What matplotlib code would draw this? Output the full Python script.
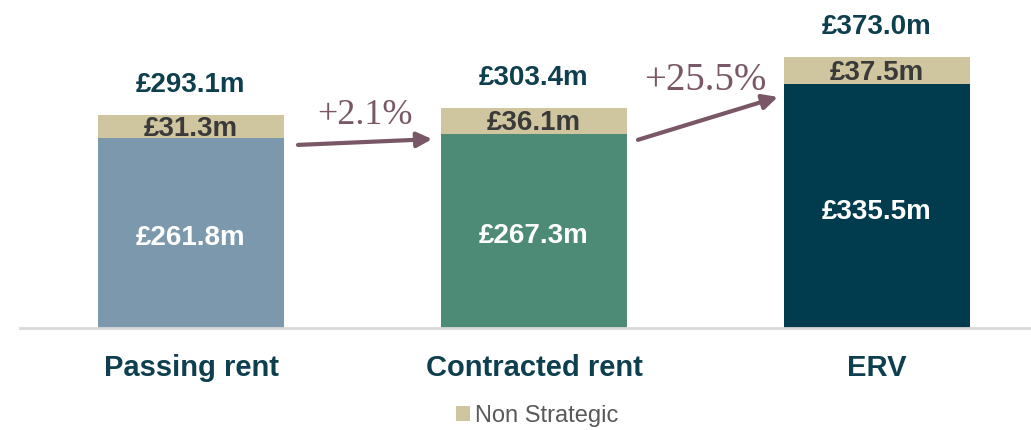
import numpy as np
import matplotlib
matplotlib.use("Agg")
import matplotlib.pyplot as plt

categories = ["Passing rent", "Contracted rent", "ERV"]
strategic = [261.8, 267.3, 335.5]
non_strategic = [31.3, 36.1, 37.5]
totals = [293.1, 303.4, 373.0]
growth = ["+2.1%", "+25.5%"]

bar_colors = ["#7B98AD", "#4E8B76", "#013C4E"]
tan = "#CFC6A0"
teal_text = "#0E3F4F"
arrow_col = "#7A5766"

plt.rcParams["font.family"] = ["Liberation Sans", "DejaVu Sans"]

fig = plt.figure(figsize=(10.31, 4.30), dpi=100)
ax = fig.add_axes([0.0, 102 / 430, 1.0, 328 / 430])

x = np.arange(len(categories))
ax.bar(x, strategic, width=0.545, color=bar_colors)
ax.bar(x, non_strategic, width=0.545, bottom=strategic, color=tan, label="Non Strategic")

ax.set_xlim(-191 / 343, (1031 - 191) / 343)
ax.set_ylim(0, 328 / 0.7265)

for i in range(len(categories)):
    ax.annotate(f"£{strategic[i]:.1f}m", (x[i], strategic[i] / 2), xytext=(0, -4),
                textcoords="offset points", ha="center", va="center",
                color="white", fontsize=20, fontweight="bold")
    ax.annotate(f"£{non_strategic[i]:.1f}m", (x[i], strategic[i] + non_strategic[i] / 2),
                xytext=(0, -2), textcoords="offset points", ha="center", va="center",
                color="#3A3A3A", fontsize=20, fontweight="bold")
    ax.annotate(f"£{totals[i]:.1f}m", (x[i], totals[i]), xytext=(0, 12),
                textcoords="offset points", ha="center", va="bottom",
                color=teal_text, fontsize=20, fontweight="bold")

# growth arrows
arrows = [((0.312, 252), (0.703, 260)), ((1.303, 259), (1.711, 318))]
labels_pos = [(0.507, 292, 26), (1.499, 340, 28)]
for (start, end), (tx, ty, fs), g in zip(arrows, labels_pos, growth):
    ax.annotate("", xy=end, xytext=start,
                arrowprops=dict(arrowstyle="-|>,head_length=0.9,head_width=0.45",
                                color=arrow_col, lw=3, shrinkA=0, shrinkB=0))
    ax.text(tx, ty, g, ha="center", va="center", color=arrow_col, fontsize=fs,
            family="Liberation Serif")

for s in ["top", "right", "left"]:
    ax.spines[s].set_visible(False)
ax.spines["bottom"].set_color("#D9D9D9")
ax.spines["bottom"].set_linewidth(2)
ax.spines["bottom"].set_bounds((20 - 191) / 343, 3)
ax.set_yticks([])
ax.set_xticks(x)
ax.set_xticklabels(categories, fontsize=21, fontweight="bold", color=teal_text)
ax.tick_params(axis="x", length=0, pad=19)

fig.legend(loc="center", bbox_to_anchor=(537 / 1031, 1 - 416 / 430), frameon=False,
           fontsize=17, labelcolor="#595959", handlelength=0.6, handleheight=0.6,
           handletextpad=0.2)

fig.savefig("out.png", dpi=100)
